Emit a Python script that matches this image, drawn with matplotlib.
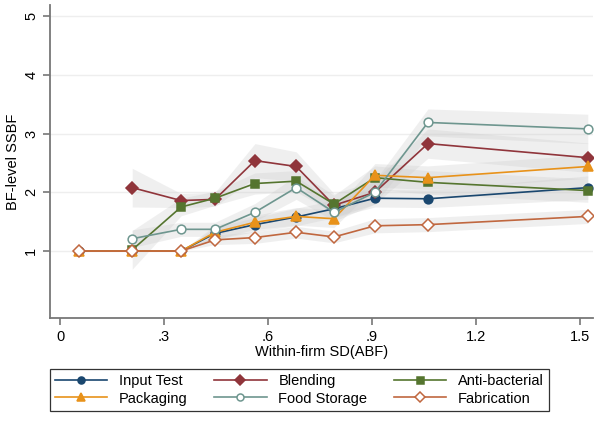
import matplotlib
matplotlib.use("Agg")
import matplotlib.pyplot as plt
import numpy as np

plt.rcParams['font.family'] = ['Liberation Sans', 'DejaVu Sans']

# x positions (within-firm SD bins)
x_all = [0.054, 0.208, 0.349, 0.447, 0.562, 0.681, 0.790, 0.908, 1.061, 1.522]
x_late = x_all[1:]

input_test = [1.0, 1.0, 1.0, 1.30, 1.45, 1.58, 1.72, 1.90, 1.89, 2.08]
input_ci = [0.0, 0.0, 0.0, 0.10, 0.12, 0.15, 0.15, 0.15, 0.15, 0.20]

blending = [2.08, 1.86, 1.88, 2.54, 2.44, 1.78, 2.00, 2.83, 2.59]
blending_ci = [0.33, 0.12, 0.12, 0.29, 0.25, 0.20, 0.20, 0.25, 0.25]

anti_bacterial = [1.02, 1.75, 1.90, 2.15, 2.19, 1.80, 2.25, 2.17, 2.03]
anti_ci = [0.33, 0.15, 0.12, 0.18, 0.18, 0.15, 0.20, 0.20, 0.20]

packaging = [1.0, 1.0, 1.0, 1.32, 1.49, 1.59, 1.55, 2.29, 2.25, 2.44]
packaging_ci = [0.0, 0.0, 0.0, 0.12, 0.12, 0.15, 0.15, 0.20, 0.20, 0.20]

food_storage = [1.21, 1.37, 1.37, 1.66, 2.08, 1.66, 2.00, 3.19, 3.08]
food_ci = [0.15, 0.12, 0.12, 0.15, 0.20, 0.15, 0.20, 0.23, 0.25]

fabrication = [1.0, 1.0, 1.0, 1.19, 1.23, 1.32, 1.24, 1.43, 1.45, 1.59]
fabrication_ci = [0.0, 0.0, 0.0, 0.08, 0.10, 0.10, 0.10, 0.12, 0.12, 0.12]

series = [
    ("Input Test", x_all, input_test, input_ci, "#1a476f", "o", True),
    ("Blending", x_late, blending, blending_ci, "#90353b", "D", True),
    ("Anti-bacterial", x_late, anti_bacterial, anti_ci, "#55752f", "s", True),
    ("Packaging", x_all, packaging, packaging_ci, "#e8921a", "^", True),
    ("Food Storage", x_late, food_storage, food_ci, "#6e968f", "o", False),
    ("Fabrication", x_all, fabrication, fabrication_ci, "#c0673f", "D", False),
]

fig = plt.figure(figsize=(5.95, 4.25), dpi=100)
ax = fig.add_axes([50/595, 1-318/425, 543/595, 313/425])

handles = {}
for name, xs, ys, ci, col, mk, filled in series:
    xs = np.array(xs); ys = np.array(ys); ci = np.array(ci)
    ax.fill_between(xs, ys - ci, ys + ci, color="#c8c8c8", alpha=0.28, lw=0, zorder=2)
    ms = {"o": 6.3, "D": 5.8, "s": 6.3, "^": 6.8}[mk]
    h, = ax.plot(xs, ys, color=col, lw=1.2, marker=mk, ms=ms,
                 markerfacecolor=col if filled else "white",
                 markeredgecolor=col, markeredgewidth=1.1, zorder=3)
    handles[name] = h

ax.set_xlim(-0.029, 1.537)
ax.set_ylim(-0.14, 5.19)
ax.set_xticks([0, 0.3, 0.6, 0.9, 1.2, 1.5])
ax.set_xticklabels(["0", ".3", ".6", ".9", "1.2", "1.5"])
ax.set_yticks([1, 2, 3, 4, 5])
ax.set_yticklabels(["1", "2", "3", "4", "5"], rotation=90, va="center")
ax.yaxis.grid(True, color="#eeeeee", lw=1.0, zorder=0)
ax.set_axisbelow(True)
for s in ["top", "right"]:
    ax.spines[s].set_visible(False)
for s in ["left", "bottom"]:
    ax.spines[s].set_color("#777777")
    ax.spines[s].set_linewidth(1.3)
ax.tick_params(axis="both", colors="#777777", labelcolor="black", labelsize=10.5,
               length=5, width=1.2)
ax.set_xlabel("Within-firm SD(ABF)", fontsize=10.5, labelpad=1)
ax.set_ylabel("BF-level SSBF", fontsize=10.5, labelpad=3)

order = ["Input Test", "Packaging", "Blending", "Food Storage", "Anti-bacterial", "Fabrication"]
leg = fig.legend([handles[n] for n in order], order, loc="center",
                 bbox_to_anchor=(0.503, 0.083), ncol=3, fontsize=10.5,
                 frameon=True, fancybox=False, edgecolor="black",
                 handlelength=3.6, columnspacing=1.8, labelspacing=0.25,
                 borderpad=0.35, handletextpad=0.8, markerscale=0.8)
leg.get_frame().set_linewidth(0.9)

fig.savefig("out.png", dpi=100)
